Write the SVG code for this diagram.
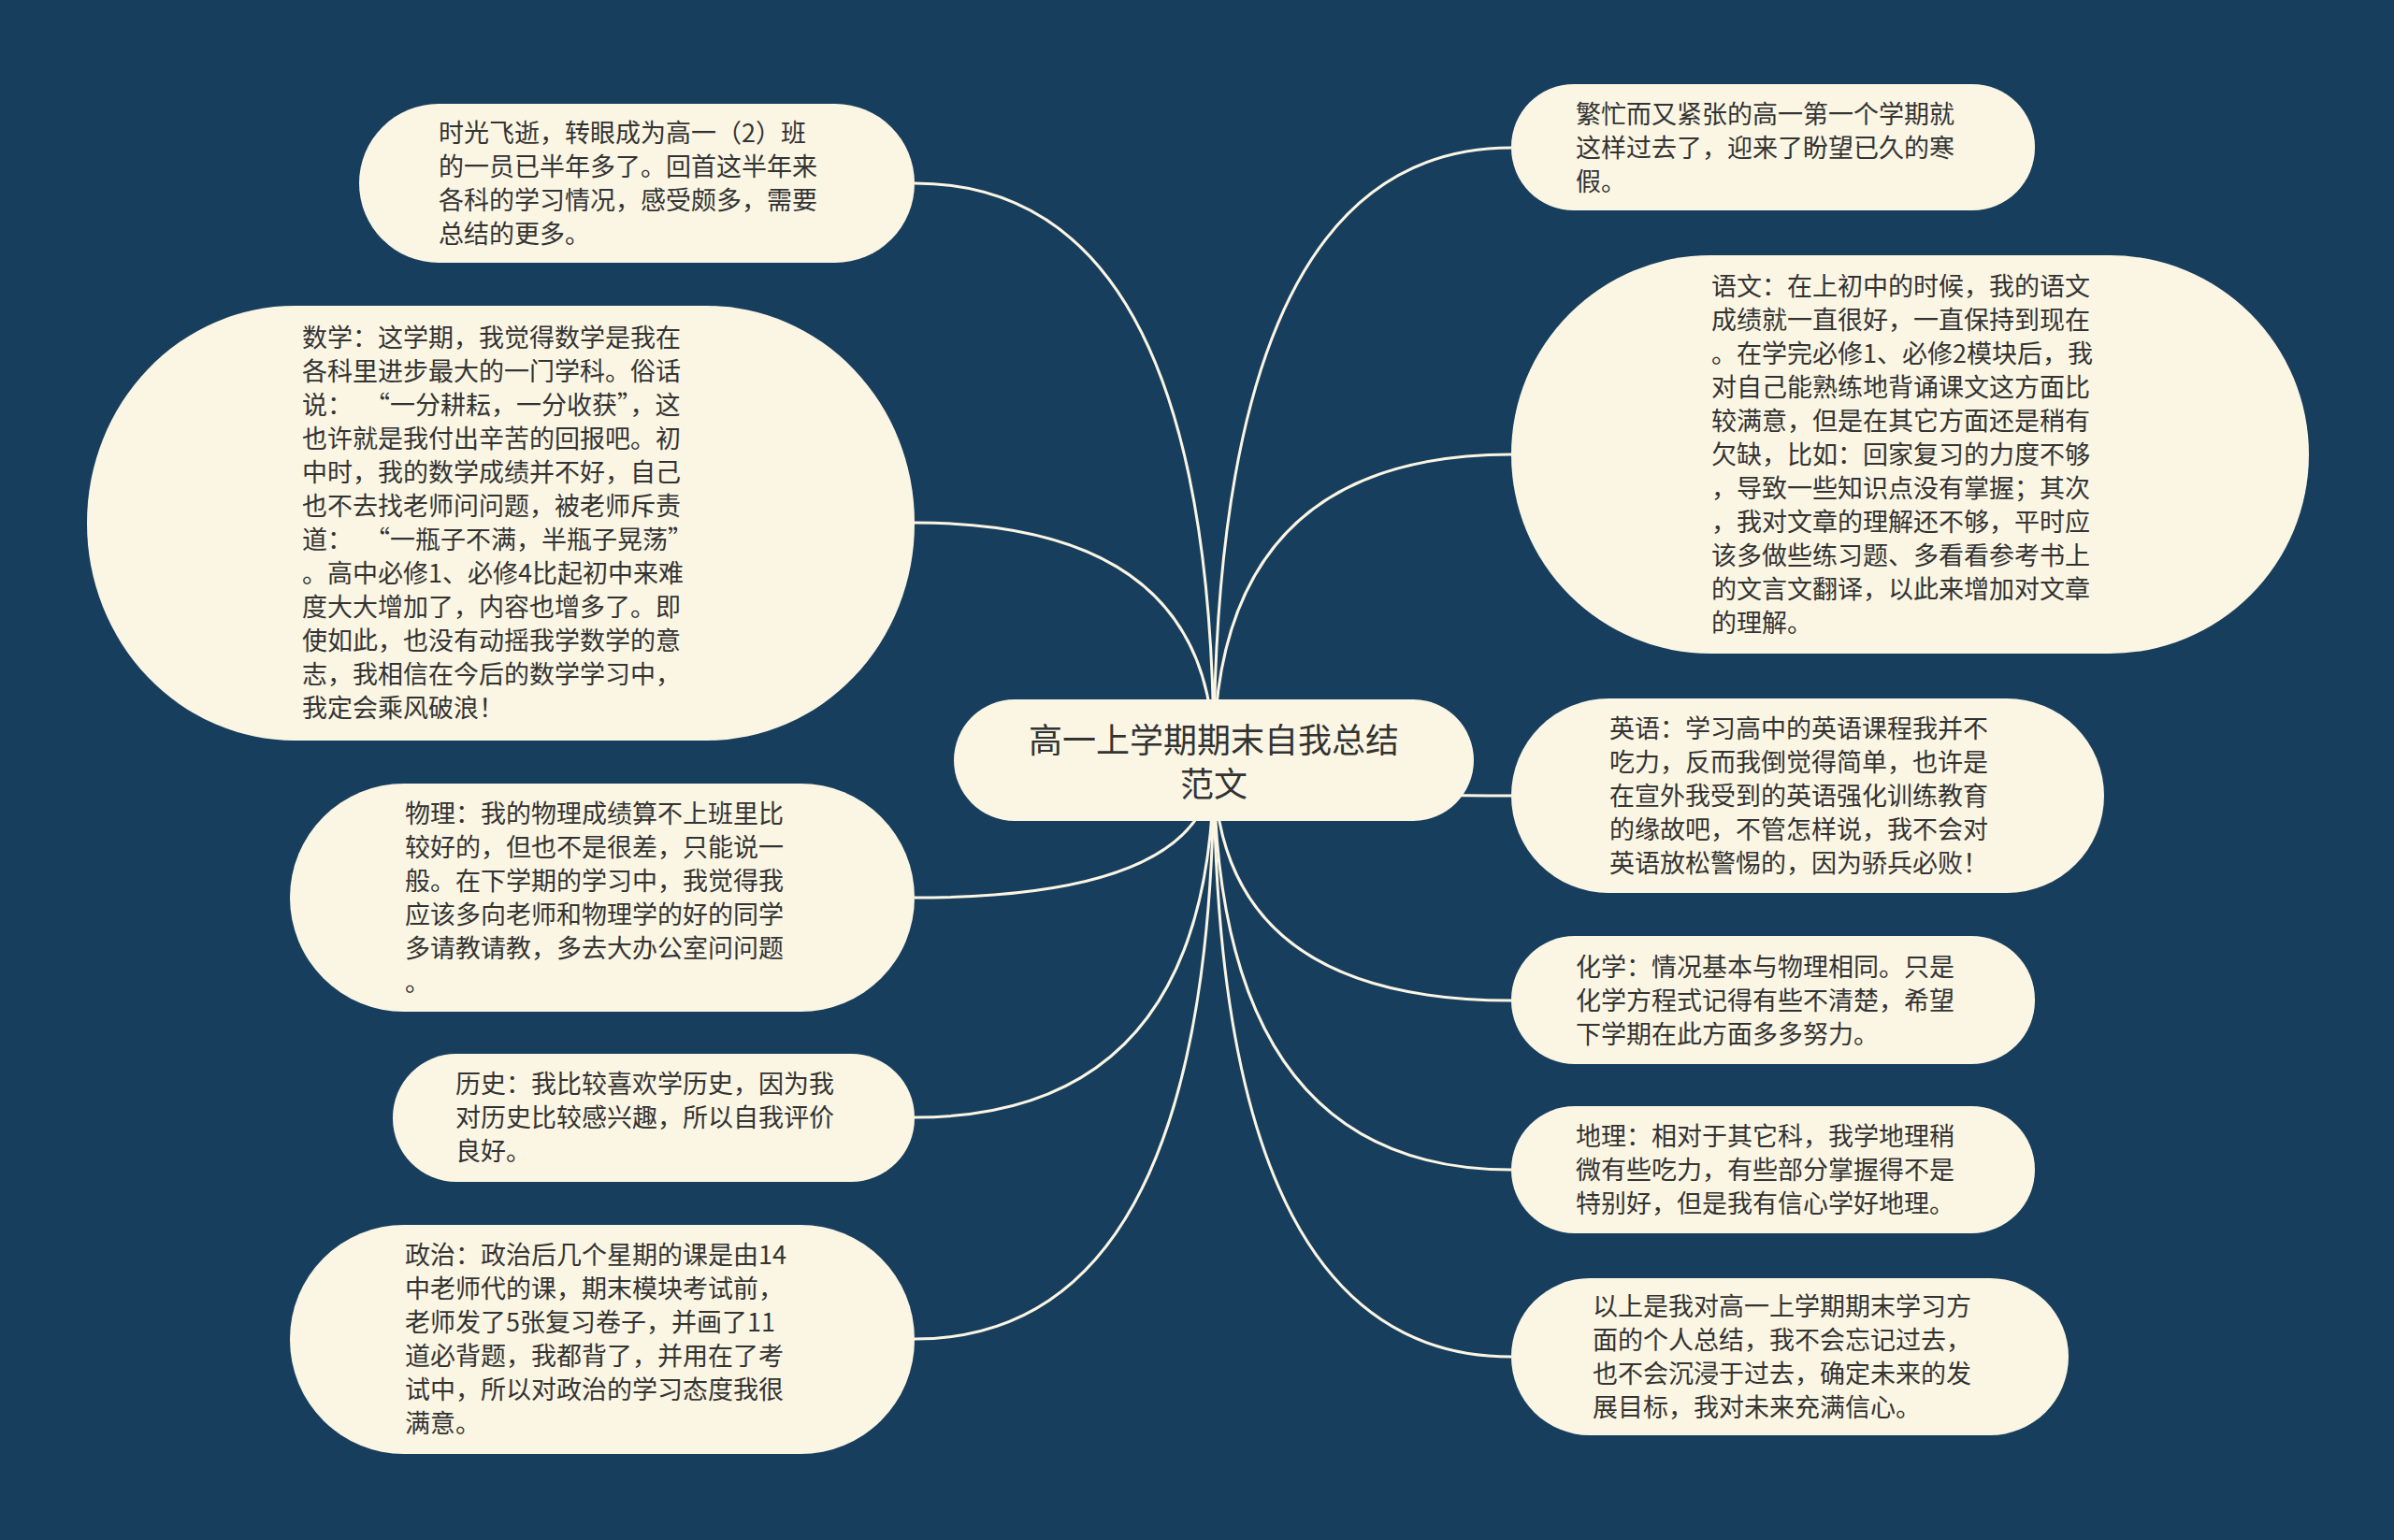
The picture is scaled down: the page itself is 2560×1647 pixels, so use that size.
<svg xmlns="http://www.w3.org/2000/svg" width="2560" height="1647" viewBox="0 0 2560 1647">
<style>
.bg{fill:#183e5e}
.node{fill:#fbf6e3}
.edge{fill:none;stroke:#fbf6e3;stroke-width:3}
.t{font-family:"Noto Sans CJK SC","Noto Sans",sans-serif;font-size:27px;fill:#333333}
.title{font-family:"Noto Sans CJK SC","Noto Sans",sans-serif;font-size:36px;fill:#333333;text-anchor:middle}
</style>
<rect class="bg" x="0" y="0" width="2560" height="1647"/>
<g id="connectors">
<path class="edge" d="M1298 813 Q1298 196 978 196"/>
<path class="edge" d="M1298 813 Q1298 559 978 559"/>
<path class="edge" d="M1298 813 Q1298 960 978 960"/>
<path class="edge" d="M1298 813 Q1298 1195 978 1195"/>
<path class="edge" d="M1298 813 Q1298 1432 978 1432"/>
<path class="edge" d="M1298 813 Q1298 158 1616 158"/>
<path class="edge" d="M1298 813 Q1298 486 1616 486"/>
<path class="edge" d="M1298 813 Q1298 851 1616 851"/>
<path class="edge" d="M1298 813 Q1298 1070 1616 1070"/>
<path class="edge" d="M1298 813 Q1298 1251 1616 1251"/>
<path class="edge" d="M1298 813 Q1298 1451 1616 1451"/>
</g>
<g id="root">
<rect class="node" x="1020" y="748" width="556" height="130" rx="65" ry="65"/>
<text class="title"><tspan x="1298" y="805">高一上学期期末自我总结</tspan><tspan x="1298" y="852">范文</tspan></text>
</g>
<g id="node-intro">
<rect class="node" x="384" y="111" width="594" height="170" rx="85" ry="85"/>
<text class="t"><tspan x="469" y="152">时光飞逝，转眼成为高一（2）班</tspan><tspan x="469" y="188">的一员已半年多了。回首这半年来</tspan><tspan x="469" y="224">各科的学习情况，感受颇多，需要</tspan><tspan x="469" y="260">总结的更多。</tspan></text>
</g>
<g id="node-math">
<rect class="node" x="93" y="327" width="885" height="465" rx="222" ry="232"/>
<text class="t"><tspan x="323" y="371">数学：这学期，我觉得数学是我在</tspan><tspan x="323" y="407">各科里进步最大的一门学科。俗话</tspan><tspan x="323" y="443">说：</tspan><tspan x="390" y="443">“一分耕耘，一分收获”，这</tspan><tspan x="323" y="479">也许就是我付出辛苦的回报吧。初</tspan><tspan x="323" y="515">中时，我的数学成绩并不好，自己</tspan><tspan x="323" y="551">也不去找老师问问题，被老师斥责</tspan><tspan x="323" y="587">道：</tspan><tspan x="390" y="587">“一瓶子不满，半瓶子晃荡”</tspan><tspan x="323" y="623">。高中必修1、必修4比起初中来难</tspan><tspan x="323" y="659">度大大增加了，内容也增多了。即</tspan><tspan x="323" y="695">使如此，也没有动摇我学数学的意</tspan><tspan x="323" y="731">志，我相信在今后的数学学习中，</tspan><tspan x="323" y="767">我定会乘风破浪！</tspan></text>
</g>
<g id="node-physics">
<rect class="node" x="310" y="838" width="668" height="244" rx="122" ry="122"/>
<text class="t"><tspan x="433" y="880">物理：我的物理成绩算不上班里比</tspan><tspan x="433" y="916">较好的，但也不是很差，只能说一</tspan><tspan x="433" y="952">般。在下学期的学习中，我觉得我</tspan><tspan x="433" y="988">应该多向老师和物理学的好的同学</tspan><tspan x="433" y="1024">多请教请教，多去大办公室问问题</tspan><tspan x="433" y="1060">。</tspan></text>
</g>
<g id="node-history">
<rect class="node" x="420" y="1127" width="558" height="137" rx="68" ry="68"/>
<text class="t"><tspan x="487" y="1169">历史：我比较喜欢学历史，因为我</tspan><tspan x="487" y="1205">对历史比较感兴趣，所以自我评价</tspan><tspan x="487" y="1241">良好。</tspan></text>
</g>
<g id="node-politics">
<rect class="node" x="310" y="1310" width="668" height="245" rx="122" ry="122"/>
<text class="t"><tspan x="433" y="1352">政治：政治后几个星期的课是由14</tspan><tspan x="433" y="1388">中老师代的课，期末模块考试前，</tspan><tspan x="433" y="1424">老师发了5张复习卷子，并画了11</tspan><tspan x="433" y="1460">道必背题，我都背了，并用在了考</tspan><tspan x="433" y="1496">试中，所以对政治的学习态度我很</tspan><tspan x="433" y="1532">满意。</tspan></text>
</g>
<g id="node-busy">
<rect class="node" x="1616" y="90" width="560" height="135" rx="67" ry="67"/>
<text class="t"><tspan x="1685" y="132">繁忙而又紧张的高一第一个学期就</tspan><tspan x="1685" y="168">这样过去了，迎来了盼望已久的寒</tspan><tspan x="1685" y="204">假。</tspan></text>
</g>
<g id="node-chinese">
<rect class="node" x="1616" y="273" width="853" height="426" rx="213" ry="213"/>
<text class="t"><tspan x="1830" y="316">语文：在上初中的时候，我的语文</tspan><tspan x="1830" y="352">成绩就一直很好，一直保持到现在</tspan><tspan x="1830" y="388">。在学完必修1、必修2模块后，我</tspan><tspan x="1830" y="424">对自己能熟练地背诵课文这方面比</tspan><tspan x="1830" y="460">较满意，但是在其它方面还是稍有</tspan><tspan x="1830" y="496">欠缺，比如：回家复习的力度不够</tspan><tspan x="1830" y="532">，导致一些知识点没有掌握；其次</tspan><tspan x="1830" y="568">，我对文章的理解还不够，平时应</tspan><tspan x="1830" y="604">该多做些练习题、多看看参考书上</tspan><tspan x="1830" y="640">的文言文翻译，以此来增加对文章</tspan><tspan x="1830" y="676">的理解。</tspan></text>
</g>
<g id="node-english">
<rect class="node" x="1616" y="747" width="634" height="208" rx="104" ry="104"/>
<text class="t"><tspan x="1721" y="789">英语：学习高中的英语课程我并不</tspan><tspan x="1721" y="825">吃力，反而我倒觉得简单，也许是</tspan><tspan x="1721" y="861">在宣外我受到的英语强化训练教育</tspan><tspan x="1721" y="897">的缘故吧，不管怎样说，我不会对</tspan><tspan x="1721" y="933">英语放松警惕的，因为骄兵必败！</tspan></text>
</g>
<g id="node-chemistry">
<rect class="node" x="1616" y="1001" width="560" height="137" rx="68" ry="68"/>
<text class="t"><tspan x="1685" y="1044">化学：情况基本与物理相同。只是</tspan><tspan x="1685" y="1080">化学方程式记得有些不清楚，希望</tspan><tspan x="1685" y="1116">下学期在此方面多多努力。</tspan></text>
</g>
<g id="node-geography">
<rect class="node" x="1616" y="1183" width="560" height="136" rx="68" ry="68"/>
<text class="t"><tspan x="1685" y="1225">地理：相对于其它科，我学地理稍</tspan><tspan x="1685" y="1261">微有些吃力，有些部分掌握得不是</tspan><tspan x="1685" y="1297">特别好，但是我有信心学好地理。</tspan></text>
</g>
<g id="node-summary">
<rect class="node" x="1616" y="1367" width="596" height="168" rx="84" ry="84"/>
<text class="t"><tspan x="1703" y="1407">以上是我对高一上学期期末学习方</tspan><tspan x="1703" y="1443">面的个人总结，我不会忘记过去，</tspan><tspan x="1703" y="1479">也不会沉浸于过去，确定未来的发</tspan><tspan x="1703" y="1515">展目标，我对未来充满信心。</tspan></text>
</g>
</svg>
